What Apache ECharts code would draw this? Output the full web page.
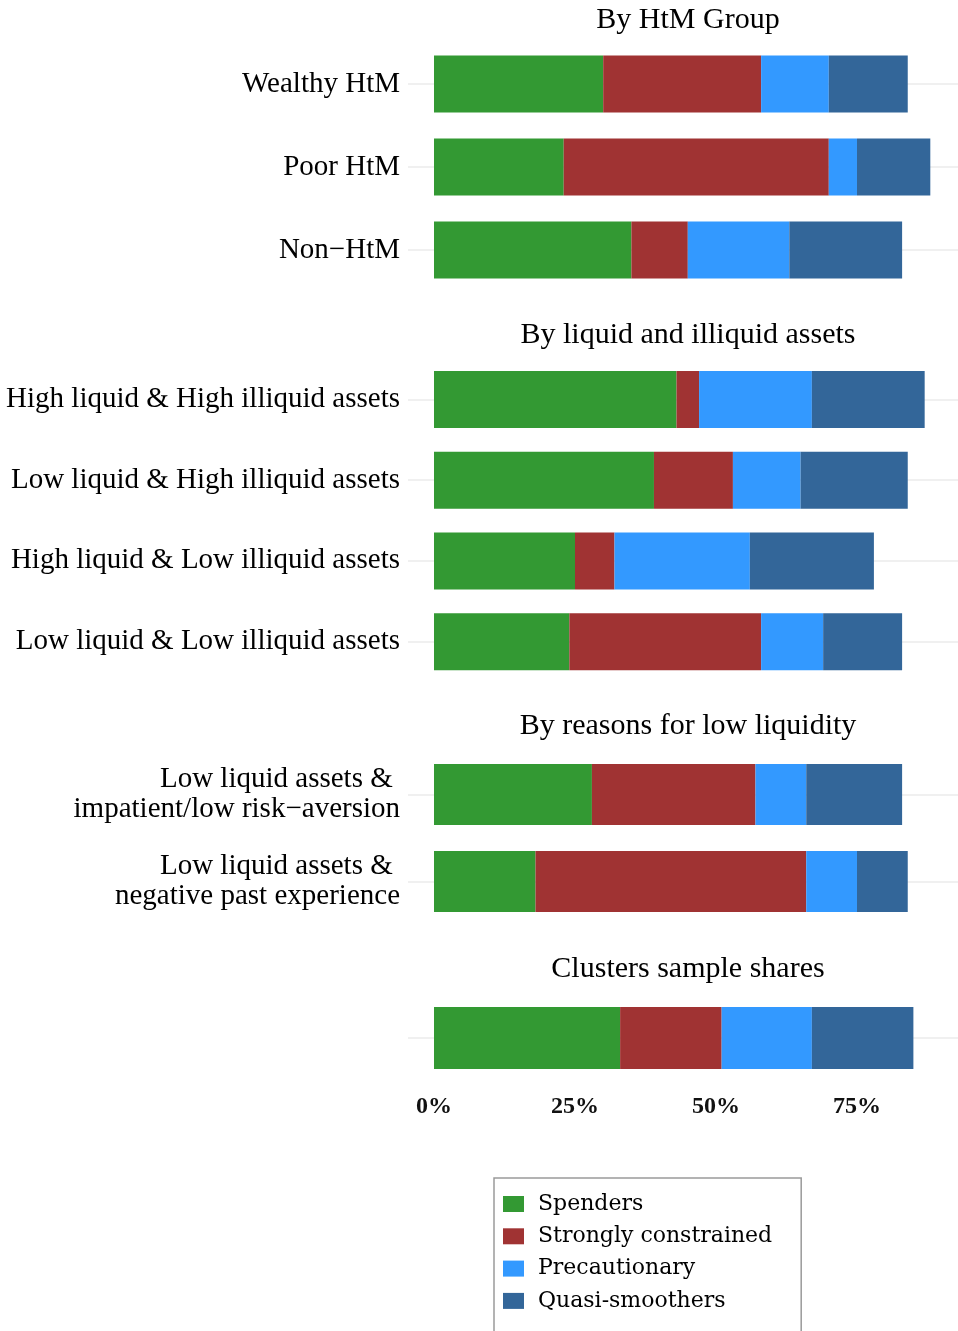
<!DOCTYPE html>
<html>
<head>
<meta charset="utf-8">
<title>Cluster shares</title>
<script src="https://cdn.jsdelivr.net/npm/echarts@6/dist/echarts.min.js"></script>
<style>
  html, body { margin: 0; padding: 0; background: #fff; }
  #chart { width: 958px; height: 1331px; }
</style>
</head>
<body>
<div id="chart"></div>
<script>
// cluster names (legend)
const clusters = ['Spenders', 'Strongly constrained', 'Precautionary', 'Quasi-smoothers'];
const colors = ['#339933', '#a03333', '#3399ff', '#336699'];

// panel titles
const panelTitles = ['By HtM Group', 'By liquid and illiquid assets', 'By reasons for low liquidity', 'Clusters sample shares'];

// By HtM Group
const htmCats = ['Wealthy HtM', 'Poor HtM', 'Non\u2212HtM'];
const htmSpenders = [30, 23, 35];
const htmStrongly = [28, 47, 10];
const htmPrecaution = [12, 5, 18];
const htmQuasi = [14, 13, 20];

// By liquid and illiquid assets
const assetCats = ['High liquid & High illiquid assets', 'Low liquid & High illiquid assets',
  'High liquid & Low illiquid assets', 'Low liquid & Low illiquid assets'];
const assetSpenders = [43, 39, 25, 24];
const assetStrongly = [4, 14, 7, 34];
const assetPrecaution = [20, 12, 24, 11];
const assetQuasi = [20, 19, 22, 14];

// By reasons for low liquidity
const reasonCats = ['Low liquid assets & \nimpatient/low risk\u2212aversion', 'Low liquid assets & \nnegative past experience'];
const reasonSpenders = [28, 18];
const reasonStrongly = [29, 48];
const reasonPrecaution = [9, 9];
const reasonQuasi = [17, 9];

// Clusters sample shares
const shareCats = [''];
const shareSpenders = [33];
const shareStrongly = [18];
const sharePrecaution = [16];
const shareQuasi = [18];

// x tick labels (percent)
const xTicks = [0, 25, 50, 75];

const serif = 'Liberation Serif';

// panel layout: grid boxes in px
const panels = [
  { cats: htmCats, vals: [htmSpenders, htmStrongly, htmPrecaution, htmQuasi], top: 42.5, height: 249, bar: 57, titleY: 19 },
  { cats: assetCats, vals: [assetSpenders, assetStrongly, assetPrecaution, assetQuasi], top: 359, height: 323, bar: 57, titleY: 334 },
  { cats: reasonCats, vals: [reasonSpenders, reasonStrongly, reasonPrecaution, reasonQuasi], top: 751, height: 174, bar: 61, titleY: 725 },
  { cats: shareCats, vals: [shareSpenders, shareStrongly, sharePrecaution, shareQuasi], top: 994, height: 88, bar: 62, titleY: 968 }
];

const grids = [], xAxes = [], yAxes = [], series = [], titles = [];

panels.forEach((p, gi) => {
  grids.push({ left: 408, width: 550, top: p.top, height: p.height, containLabel: false });
  const last = gi === panels.length - 1;
  xAxes.push({
    type: 'value', gridIndex: gi, min: -4.61, max: 92.91,
    axisLine: { show: false }, axisTick: { show: false }, splitLine: { show: false },
    axisLabel: {
      show: last, customValues: xTicks, formatter: '{value}%', margin: 13,
      fontFamily: serif, fontSize: 24, fontWeight: 'bold', color: '#111'
    }
  });
  yAxes.push({
    type: 'category', gridIndex: gi, data: p.cats, inverse: true,
    axisLine: { show: false }, axisTick: { show: false }, splitLine: { show: false },
    axisLabel: { margin: 8, fontFamily: serif, fontSize: 29, lineHeight: 30, color: '#000', align: 'right' }
  });
  clusters.forEach((name, si) => {
    const s = {
      name: name, type: 'bar', stack: 'g' + gi,
      xAxisIndex: gi, yAxisIndex: gi,
      data: p.vals[si], barWidth: p.bar,
      itemStyle: { color: colors[si] }
    };
    // horizontal gridlines through each category, behind bars
    if (si === 0) {
      s.markLine = {
        silent: true, symbol: 'none', z: 1,
        label: { show: false },
        lineStyle: { color: '#ebebeb', width: 1.5, type: 'solid' },
        data: p.cats.map(c => ({ yAxis: c }))
      };
    }
    series.push(s);
  });
  titles.push({
    type: 'text', x: 688, y: p.titleY + 1,
    style: {
      text: panelTitles[gi], fill: '#000', font: '30px "' + serif + '"',
      textAlign: 'center', textVerticalAlign: 'middle'
    }
  });
});

const chart = echarts.init(document.getElementById('chart'));
chart.setOption({
  animation: false,
  backgroundColor: '#fff',
  grid: grids,
  xAxis: xAxes,
  yAxis: yAxes,
  series: series,
  graphic: titles,
  legend: {
    orient: 'vertical', left: 494, top: 1178, height: 130,
    padding: [15, 29, 40, 9],
    itemWidth: 21, itemHeight: 16, itemGap: 10.3,
    icon: 'rect',
    borderColor: '#9a9a9a', borderWidth: 1.5,
    data: clusters,
    textStyle: { fontFamily: 'DejaVu Serif', fontSize: 22, lineHeight: 22, color: '#000', padding: [0, 0, 0, 9] }
  }
});
</script>
</body>
</html>
